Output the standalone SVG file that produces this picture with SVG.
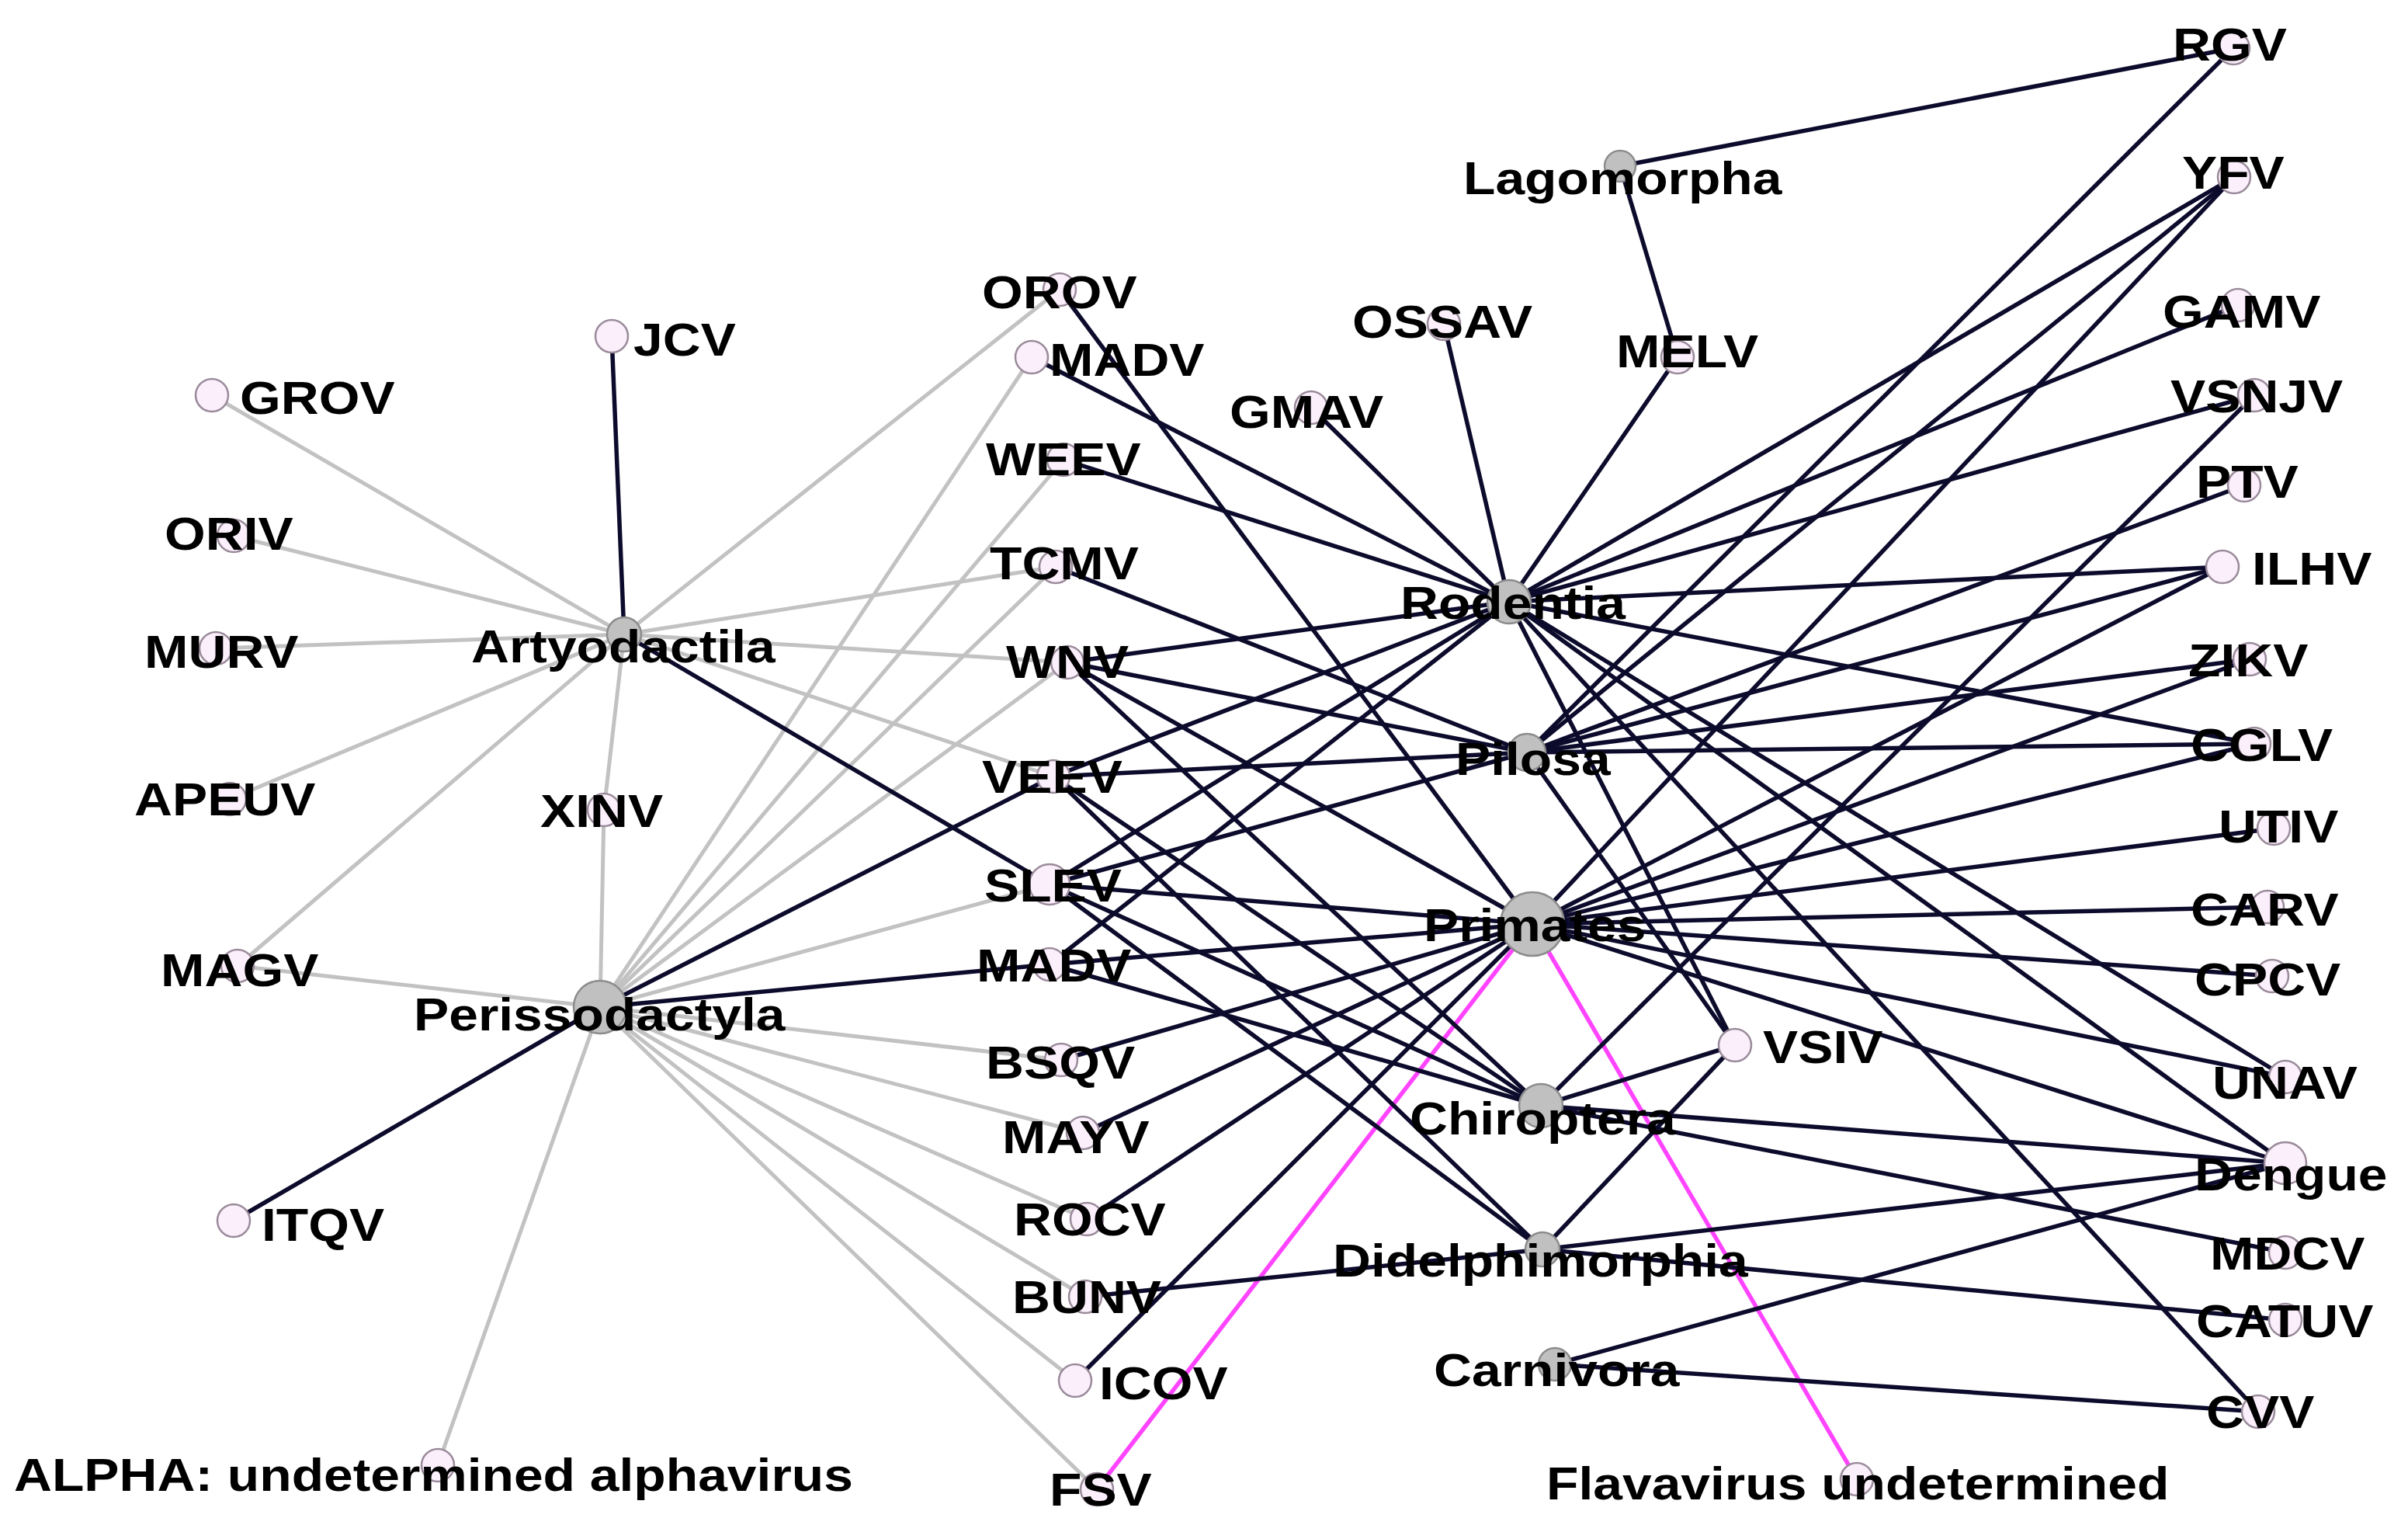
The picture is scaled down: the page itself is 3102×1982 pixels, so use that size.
<svg xmlns="http://www.w3.org/2000/svg" width="3102" height="1982" viewBox="0 0 3102 1982">
<style>
.g{stroke:#c2c2c2;stroke-width:5;fill:none}
.d{stroke:#0d0b2c;stroke-width:5.5;fill:none}
.p{stroke:#ff44ff;stroke-width:5.5;fill:none}
.v{fill:#fbeffb;stroke:#9a8a9a;stroke-width:2.5}
.h{fill:#c0c0c0;stroke:#8c8c8c;stroke-width:2.5}
text{font-family:"Liberation Sans",Arial,Helvetica,sans-serif;font-weight:bold;font-size:60px;fill:#000}
</style>
<rect width="3102" height="1982" fill="#ffffff"/>
<g id="connectors">
<!-- gray: Artyodactila -->
<line class="g" x1="804" y1="817" x2="273" y2="509"/>
<line class="g" x1="804" y1="817" x2="301" y2="690"/>
<line class="g" x1="804" y1="817" x2="278" y2="835"/>
<line class="g" x1="804" y1="817" x2="296" y2="1029"/>
<line class="g" x1="804" y1="817" x2="306" y2="1244"/>
<line class="g" x1="804" y1="817" x2="778" y2="1043"/>
<line class="g" x1="804" y1="817" x2="1365" y2="373"/>
<line class="g" x1="804" y1="817" x2="1360" y2="730"/>
<line class="g" x1="804" y1="817" x2="1375" y2="853"/>
<line class="g" x1="804" y1="817" x2="1357" y2="1000"/>
<!-- gray: Perissodactyla -->
<line class="g" x1="773" y1="1297" x2="778" y2="1043"/>
<line class="g" x1="773" y1="1297" x2="306" y2="1244"/>
<line class="g" x1="773" y1="1297" x2="1329" y2="460"/>
<line class="g" x1="773" y1="1297" x2="1370" y2="592"/>
<line class="g" x1="773" y1="1297" x2="1360" y2="730"/>
<line class="g" x1="773" y1="1297" x2="1375" y2="853"/>
<line class="g" x1="773" y1="1297" x2="1352" y2="1139"/>
<line class="g" x1="773" y1="1297" x2="1367" y2="1365"/>
<line class="g" x1="773" y1="1297" x2="1395" y2="1459"/>
<line class="g" x1="773" y1="1297" x2="1400" y2="1570"/>
<line class="g" x1="773" y1="1297" x2="1398" y2="1670"/>
<line class="g" x1="773" y1="1297" x2="1385" y2="1778"/>
<line class="g" x1="773" y1="1297" x2="1413" y2="1918"/>
<line class="g" x1="773" y1="1297" x2="564" y2="1887"/>
<!-- dark: Artyodactila / Perissodactyla -->
<line class="d" x1="804" y1="817" x2="788" y2="433"/>
<line class="d" x1="804" y1="817" x2="1352" y2="1139"/>
<line class="d" x1="773" y1="1297" x2="1357" y2="1000"/>
<line class="d" x1="773" y1="1297" x2="1352" y2="1242"/>
<line class="d" x1="773" y1="1297" x2="301" y2="1572"/>
<!-- Lagomorpha -->
<line class="d" x1="2087" y1="214" x2="2877" y2="62"/>
<line class="d" x1="2087" y1="214" x2="2161" y2="460"/>
<!-- Rodentia -->
<line class="d" x1="1944" y1="775" x2="2161" y2="460"/>
<line class="d" x1="1944" y1="775" x2="1860" y2="417"/>
<line class="d" x1="1944" y1="775" x2="1689" y2="525"/>
<line class="d" x1="1944" y1="775" x2="1329" y2="460"/>
<line class="d" x1="1944" y1="775" x2="1370" y2="592"/>
<line class="d" x1="1944" y1="775" x2="1375" y2="853"/>
<line class="d" x1="1944" y1="775" x2="1357" y2="1000"/>
<line class="d" x1="1944" y1="775" x2="1352" y2="1139"/>
<line class="d" x1="1944" y1="775" x2="1352" y2="1242"/>
<line class="d" x1="1944" y1="775" x2="2878" y2="228"/>
<line class="d" x1="1944" y1="775" x2="2883" y2="393"/>
<line class="d" x1="1944" y1="775" x2="2904" y2="509"/>
<line class="d" x1="1944" y1="775" x2="2863" y2="730"/>
<line class="d" x1="1944" y1="775" x2="2904" y2="958"/>
<line class="d" x1="1944" y1="775" x2="2944" y2="1387"/>
<line class="d" x1="1944" y1="775" x2="2944" y2="1498"/>
<line class="d" x1="1944" y1="775" x2="2909" y2="1818"/>
<line class="d" x1="1944" y1="775" x2="2235" y2="1346"/>
<!-- Pilosa -->
<line class="d" x1="1967" y1="969" x2="1360" y2="730"/>
<line class="d" x1="1967" y1="969" x2="1375" y2="853"/>
<line class="d" x1="1967" y1="969" x2="1357" y2="1000"/>
<line class="d" x1="1967" y1="969" x2="1352" y2="1139"/>
<line class="d" x1="1967" y1="969" x2="2877" y2="62"/>
<line class="d" x1="1967" y1="969" x2="2878" y2="228"/>
<line class="d" x1="1967" y1="969" x2="2891" y2="625"/>
<line class="d" x1="1967" y1="969" x2="2863" y2="730"/>
<line class="d" x1="1967" y1="969" x2="2898" y2="849"/>
<line class="d" x1="1967" y1="969" x2="2904" y2="958"/>
<line class="d" x1="1967" y1="969" x2="2235" y2="1346"/>
<!-- Primates -->
<line class="d" x1="1974" y1="1190" x2="1365" y2="373"/>
<line class="d" x1="1974" y1="1190" x2="1375" y2="853"/>
<line class="d" x1="1974" y1="1190" x2="1352" y2="1139"/>
<line class="d" x1="1974" y1="1190" x2="1352" y2="1242"/>
<line class="d" x1="1974" y1="1190" x2="1367" y2="1365"/>
<line class="d" x1="1974" y1="1190" x2="1395" y2="1459"/>
<line class="d" x1="1974" y1="1190" x2="1400" y2="1570"/>
<line class="d" x1="1974" y1="1190" x2="1385" y2="1778"/>
<line class="d" x1="1974" y1="1190" x2="2878" y2="228"/>
<line class="d" x1="1974" y1="1190" x2="2863" y2="730"/>
<line class="d" x1="1974" y1="1190" x2="2898" y2="849"/>
<line class="d" x1="1974" y1="1190" x2="2904" y2="958"/>
<line class="d" x1="1974" y1="1190" x2="2929" y2="1067"/>
<line class="d" x1="1974" y1="1190" x2="2921" y2="1168"/>
<line class="d" x1="1974" y1="1190" x2="2927" y2="1257"/>
<line class="d" x1="1974" y1="1190" x2="2944" y2="1387"/>
<line class="d" x1="1974" y1="1190" x2="2944" y2="1498"/>
<line class="p" x1="1974" y1="1190" x2="1413" y2="1918"/>
<line class="p" x1="1974" y1="1190" x2="2392" y2="1905"/>
<!-- Chiroptera -->
<line class="d" x1="1985" y1="1424" x2="1375" y2="853"/>
<line class="d" x1="1985" y1="1424" x2="1357" y2="1000"/>
<line class="d" x1="1985" y1="1424" x2="1352" y2="1139"/>
<line class="d" x1="1985" y1="1424" x2="1352" y2="1242"/>
<line class="d" x1="1985" y1="1424" x2="2904" y2="509"/>
<line class="d" x1="1985" y1="1424" x2="2235" y2="1346"/>
<line class="d" x1="1985" y1="1424" x2="2944" y2="1498"/>
<line class="d" x1="1985" y1="1424" x2="2944" y2="1613"/>
<!-- Didelphimorphia -->
<line class="d" x1="1987" y1="1609" x2="1357" y2="1000"/>
<line class="d" x1="1987" y1="1609" x2="1352" y2="1139"/>
<line class="d" x1="1987" y1="1609" x2="1398" y2="1670"/>
<line class="d" x1="1987" y1="1609" x2="2944" y2="1498"/>
<line class="d" x1="1987" y1="1609" x2="2944" y2="1700"/>
<line class="d" x1="1987" y1="1609" x2="2235" y2="1346"/>
<!-- Carnivora -->
<line class="d" x1="2003" y1="1757" x2="2944" y2="1498"/>
<line class="d" x1="2003" y1="1757" x2="2909" y2="1818"/>
</g>
<g id="n-GROV"><circle class="v" cx="273" cy="509" r="21"/><text transform="translate(309 533) scale(1.13 1)">GROV</text></g>
<g id="n-JCV"><circle class="v" cx="788" cy="433" r="21"/><text transform="translate(816 458) scale(1.13 1)">JCV</text></g>
<g id="n-ORIV"><circle class="v" cx="301" cy="690" r="21"/><text transform="translate(212 708) scale(1.13 1)">ORIV</text></g>
<g id="n-MURV"><circle class="v" cx="278" cy="835" r="21"/><text transform="translate(186 860) scale(1.13 1)">MURV</text></g>
<g id="n-APEUV"><circle class="v" cx="296" cy="1029" r="21"/><text transform="translate(173 1050) scale(1.13 1)">APEUV</text></g>
<g id="n-MAGV"><circle class="v" cx="306" cy="1244" r="21"/><text transform="translate(207 1270) scale(1.13 1)">MAGV</text></g>
<g id="n-XINV"><circle class="v" cx="778" cy="1043" r="21"/><text transform="translate(696 1065) scale(1.13 1)">XINV</text></g>
<g id="n-ITQV"><circle class="v" cx="301" cy="1572" r="21"/><text transform="translate(337 1598) scale(1.13 1)">ITQV</text></g>
<g id="n-ALPHA"><circle class="v" cx="564" cy="1887" r="21"/><text transform="translate(18 1920) scale(1.13 1)">ALPHA: undetermined alphavirus</text></g>
<g id="n-OROV"><circle class="v" cx="1365" cy="373" r="21"/><text transform="translate(1265 397) scale(1.13 1)">OROV</text></g>
<g id="n-MADV1"><circle class="v" cx="1329" cy="460" r="21"/><text transform="translate(1352 484) scale(1.13 1)">MADV</text></g>
<g id="n-WEEV"><circle class="v" cx="1370" cy="592" r="21"/><text transform="translate(1270 612) scale(1.13 1)">WEEV</text></g>
<g id="n-TCMV"><circle class="v" cx="1360" cy="730" r="21"/><text transform="translate(1275 746) scale(1.13 1)">TCMV</text></g>
<g id="n-WNV"><circle class="v" cx="1375" cy="853" r="21"/><text transform="translate(1296 873) scale(1.13 1)">WNV</text></g>
<g id="n-VEEV"><circle class="v" cx="1357" cy="1000" r="21"/><text transform="translate(1265 1021) scale(1.13 1)">VEEV</text></g>
<g id="n-SLEV"><circle class="v" cx="1352" cy="1139" r="26"/><text transform="translate(1268 1161) scale(1.13 1)">SLEV</text></g>
<g id="n-MADV2"><circle class="v" cx="1352" cy="1242" r="21"/><text transform="translate(1258 1264) scale(1.13 1)">MADV</text></g>
<g id="n-BSQV"><circle class="v" cx="1367" cy="1365" r="21"/><text transform="translate(1270 1389) scale(1.13 1)">BSQV</text></g>
<g id="n-MAYV"><circle class="v" cx="1395" cy="1459" r="21"/><text transform="translate(1291 1485) scale(1.13 1)">MAYV</text></g>
<g id="n-ROCV"><circle class="v" cx="1400" cy="1570" r="21"/><text transform="translate(1306 1591) scale(1.13 1)">ROCV</text></g>
<g id="n-BUNV"><circle class="v" cx="1398" cy="1670" r="21"/><text transform="translate(1304 1691) scale(1.13 1)">BUNV</text></g>
<g id="n-ICOV"><circle class="v" cx="1385" cy="1778" r="21"/><text transform="translate(1416 1802) scale(1.13 1)">ICOV</text></g>
<g id="n-FSV"><circle class="v" cx="1413" cy="1918" r="21"/><text transform="translate(1352 1939) scale(1.13 1)">FSV</text></g>
<g id="n-OSSAV"><circle class="v" cx="1860" cy="417" r="21"/><text transform="translate(1742 435) scale(1.13 1)">OSSAV</text></g>
<g id="n-MELV"><circle class="v" cx="2161" cy="460" r="21"/><text transform="translate(2082 473) scale(1.13 1)">MELV</text></g>
<g id="n-GMAV"><circle class="v" cx="1689" cy="525" r="21"/><text transform="translate(1584 551) scale(1.13 1)">GMAV</text></g>
<g id="n-RGV"><circle class="v" cx="2877" cy="62" r="21"/><text transform="translate(2799 78) scale(1.13 1)">RGV</text></g>
<g id="n-YFV"><circle class="v" cx="2878" cy="228" r="21"/><text transform="translate(2811 243) scale(1.13 1)">YFV</text></g>
<g id="n-GAMV"><circle class="v" cx="2883" cy="393" r="21"/><text transform="translate(2786 422) scale(1.13 1)">GAMV</text></g>
<g id="n-VSNJV"><circle class="v" cx="2904" cy="509" r="21"/><text transform="translate(2796 531) scale(1.13 1)">VSNJV</text></g>
<g id="n-PTV"><circle class="v" cx="2891" cy="625" r="21"/><text transform="translate(2829 641) scale(1.13 1)">PTV</text></g>
<g id="n-ILHV"><circle class="v" cx="2863" cy="730" r="21"/><text transform="translate(2901 753) scale(1.13 1)">ILHV</text></g>
<g id="n-ZIKV"><circle class="v" cx="2898" cy="849" r="21"/><text transform="translate(2819 871) scale(1.13 1)">ZIKV</text></g>
<g id="n-CGLV"><circle class="v" cx="2904" cy="958" r="21"/><text transform="translate(2822 980) scale(1.13 1)">CGLV</text></g>
<g id="n-UTIV"><circle class="v" cx="2929" cy="1067" r="21"/><text transform="translate(2858 1085) scale(1.13 1)">UTIV</text></g>
<g id="n-CARV"><circle class="v" cx="2921" cy="1168" r="21"/><text transform="translate(2822 1192) scale(1.13 1)">CARV</text></g>
<g id="n-CPCV"><circle class="v" cx="2927" cy="1257" r="21"/><text transform="translate(2827 1282) scale(1.13 1)">CPCV</text></g>
<g id="n-VSIV"><circle class="v" cx="2235" cy="1346" r="21"/><text transform="translate(2271 1369) scale(1.13 1)">VSIV</text></g>
<g id="n-UNAV"><circle class="v" cx="2944" cy="1387" r="21"/><text transform="translate(2850 1415) scale(1.13 1)">UNAV</text></g>
<g id="n-Dengue"><circle class="v" cx="2944" cy="1498" r="27"/><text transform="translate(2827 1533) scale(1.13 1)">Dengue</text></g>
<g id="n-MDCV"><circle class="v" cx="2944" cy="1613" r="21"/><text transform="translate(2847 1635) scale(1.13 1)">MDCV</text></g>
<g id="n-CATUV"><circle class="v" cx="2944" cy="1700" r="21"/><text transform="translate(2829 1722) scale(1.13 1)">CATUV</text></g>
<g id="n-CVV"><circle class="v" cx="2909" cy="1818" r="21"/><text transform="translate(2842 1839) scale(1.13 1)">CVV</text></g>
<g id="n-FLAV"><circle class="v" cx="2392" cy="1905" r="21"/><text transform="translate(1992 1931) scale(1.13 1)">Flavavirus undetermined</text></g>
<g id="n-Lagomorpha"><circle class="h" cx="2087" cy="214" r="20"/><text transform="translate(1885 250) scale(1.13 1)">Lagomorpha</text></g>
<g id="n-Rodentia"><circle class="h" cx="1944" cy="775" r="28"/><text transform="translate(1804 797) scale(1.13 1)">Rodentia</text></g>
<g id="n-Pilosa"><circle class="h" cx="1967" cy="969" r="24"/><text transform="translate(1875 998) scale(1.13 1)">Pilosa</text></g>
<g id="n-Primates"><circle class="h" cx="1974" cy="1190" r="41"/><text transform="translate(1834 1212) scale(1.13 1)">Primates</text></g>
<g id="n-Chiroptera"><circle class="h" cx="1985" cy="1424" r="28"/><text transform="translate(1816 1461) scale(1.13 1)">Chiroptera</text></g>
<g id="n-Didelphimorphia"><circle class="h" cx="1987" cy="1609" r="22"/><text transform="translate(1717 1644) scale(1.13 1)">Didelphimorphia</text></g>
<g id="n-Carnivora"><circle class="h" cx="2003" cy="1757" r="21"/><text transform="translate(1847 1785) scale(1.13 1)">Carnivora</text></g>
<g id="n-Artyodactila"><circle class="h" cx="804" cy="817" r="22"/><text transform="translate(607 853) scale(1.13 1)">Artyodactila</text></g>
<g id="n-Perissodactyla"><circle class="h" cx="773" cy="1297" r="34"/><text transform="translate(533 1327) scale(1.13 1)">Perissodactyla</text></g>
</svg>
